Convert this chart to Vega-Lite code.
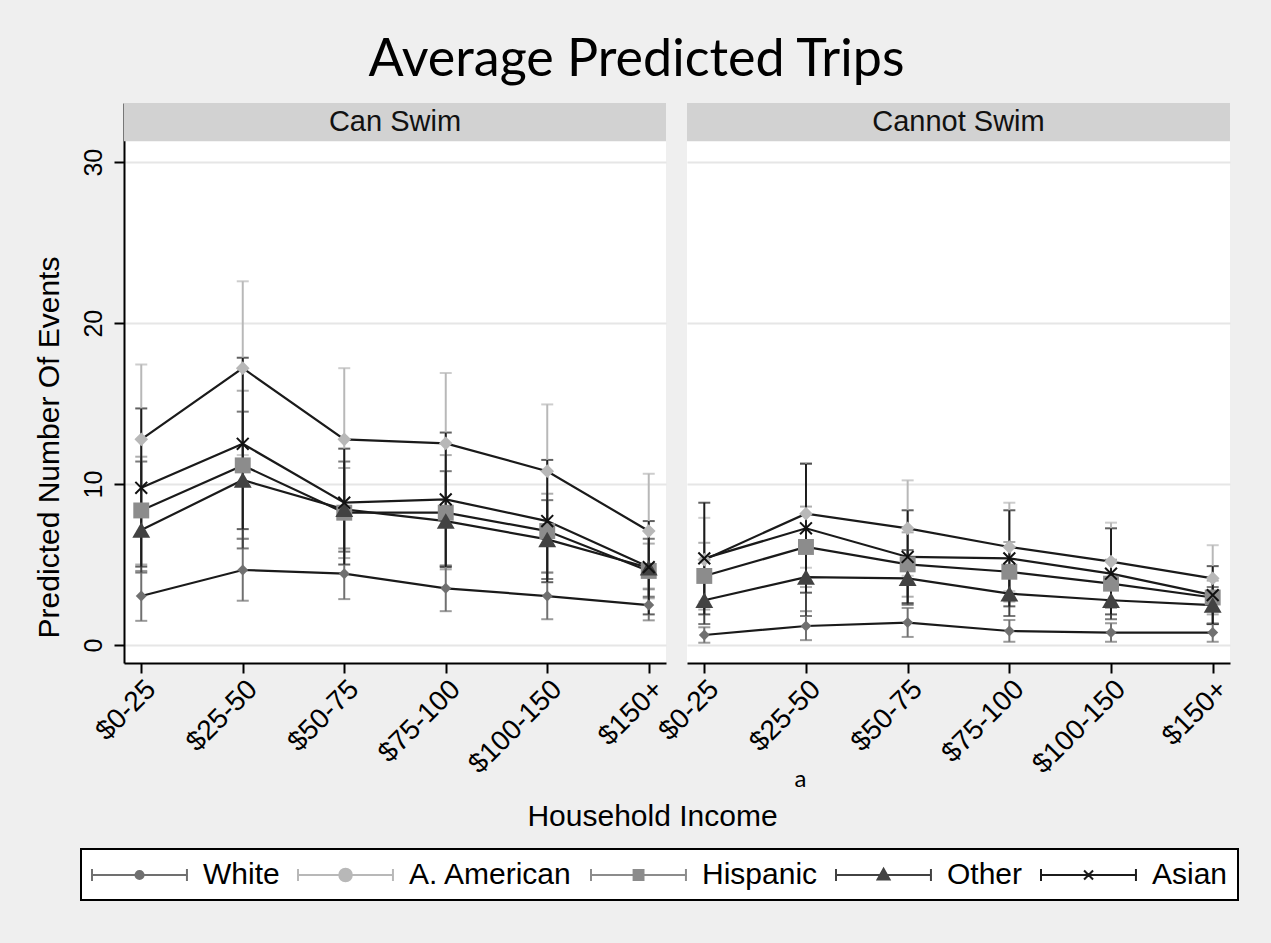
{
  "$schema": "https://vega.github.io/schema/vega-lite/v6.json",
  "background": "#efefef",
  "padding": {"left": 34, "top": 34, "right": 33, "bottom": 43},
  "title": {"text": "Average Predicted Trips", "font": "Lato", "fontSize": 52, "fontWeight": "normal", "color": "black", "anchor": "middle", "frame": "bounds", "offset": 16},
  "config": {"font": "Liberation Sans", "view": {"fill": "white", "stroke": null}},
  "datasets": {"d": [
    {"swim": "Can Swim", "race": "White", "income": "$0-25", "est": 3.04, "lo": 1.5, "hi": 4.6},
    {"swim": "Can Swim", "race": "White", "income": "$25-50", "est": 4.66, "lo": 2.75, "hi": 6.6},
    {"swim": "Can Swim", "race": "White", "income": "$50-75", "est": 4.43, "lo": 2.85, "hi": 6.0},
    {"swim": "Can Swim", "race": "White", "income": "$75-100", "est": 3.52, "lo": 2.1, "hi": 4.95},
    {"swim": "Can Swim", "race": "White", "income": "$100-150", "est": 3.04, "lo": 1.6, "hi": 4.5},
    {"swim": "Can Swim", "race": "White", "income": "$150+", "est": 2.48, "lo": 1.53, "hi": 3.46},
    {"swim": "Can Swim", "race": "A. American", "income": "$0-25", "est": 12.78, "lo": 8.13, "hi": 17.43},
    {"swim": "Can Swim", "race": "A. American", "income": "$25-50", "est": 17.2, "lo": 11.8, "hi": 22.6},
    {"swim": "Can Swim", "race": "A. American", "income": "$50-75", "est": 12.78, "lo": 8.36, "hi": 17.2},
    {"swim": "Can Swim", "race": "A. American", "income": "$75-100", "est": 12.53, "lo": 8.16, "hi": 16.9},
    {"swim": "Can Swim", "race": "A. American", "income": "$100-150", "est": 10.8, "lo": 6.65, "hi": 14.95},
    {"swim": "Can Swim", "race": "A. American", "income": "$150+", "est": 7.08, "lo": 3.52, "hi": 10.64},
    {"swim": "Can Swim", "race": "Hispanic", "income": "$0-25", "est": 8.36, "lo": 5.0, "hi": 11.7},
    {"swim": "Can Swim", "race": "Hispanic", "income": "$25-50", "est": 11.16, "lo": 6.6, "hi": 15.8},
    {"swim": "Can Swim", "race": "Hispanic", "income": "$50-75", "est": 8.22, "lo": 5.4, "hi": 11.0},
    {"swim": "Can Swim", "race": "Hispanic", "income": "$75-100", "est": 8.22, "lo": 4.7, "hi": 11.8},
    {"swim": "Can Swim", "race": "Hispanic", "income": "$100-150", "est": 7.08, "lo": 4.5, "hi": 9.4},
    {"swim": "Can Swim", "race": "Hispanic", "income": "$150+", "est": 4.6, "lo": 2.9, "hi": 6.3},
    {"swim": "Can Swim", "race": "Other", "income": "$0-25", "est": 7.14, "lo": 4.5, "hi": 11.4},
    {"swim": "Can Swim", "race": "Other", "income": "$25-50", "est": 10.25, "lo": 6.0, "hi": 14.5},
    {"swim": "Can Swim", "race": "Other", "income": "$50-75", "est": 8.43, "lo": 5.8, "hi": 11.4},
    {"swim": "Can Swim", "race": "Other", "income": "$75-100", "est": 7.7, "lo": 4.9, "hi": 10.8},
    {"swim": "Can Swim", "race": "Other", "income": "$100-150", "est": 6.56, "lo": 4.1, "hi": 9.0},
    {"swim": "Can Swim", "race": "Other", "income": "$150+", "est": 4.8, "lo": 3.0, "hi": 6.6},
    {"swim": "Can Swim", "race": "Asian", "income": "$0-25", "est": 9.77, "lo": 4.87, "hi": 14.7},
    {"swim": "Can Swim", "race": "Asian", "income": "$25-50", "est": 12.5, "lo": 7.2, "hi": 17.85},
    {"swim": "Can Swim", "race": "Asian", "income": "$50-75", "est": 8.84, "lo": 5.0, "hi": 12.2},
    {"swim": "Can Swim", "race": "Asian", "income": "$75-100", "est": 9.05, "lo": 4.84, "hi": 13.2},
    {"swim": "Can Swim", "race": "Asian", "income": "$100-150", "est": 7.7, "lo": 3.9, "hi": 11.5},
    {"swim": "Can Swim", "race": "Asian", "income": "$150+", "est": 4.84, "lo": 1.9, "hi": 7.7},
    {"swim": "Cannot Swim", "race": "White", "income": "$0-25", "est": 0.62, "lo": 0.14, "hi": 1.1},
    {"swim": "Cannot Swim", "race": "White", "income": "$25-50", "est": 1.18, "lo": 0.3, "hi": 2.1},
    {"swim": "Cannot Swim", "race": "White", "income": "$50-75", "est": 1.39, "lo": 0.5, "hi": 2.3},
    {"swim": "Cannot Swim", "race": "White", "income": "$75-100", "est": 0.87, "lo": 0.2, "hi": 1.55},
    {"swim": "Cannot Swim", "race": "White", "income": "$100-150", "est": 0.77, "lo": 0.2, "hi": 1.35},
    {"swim": "Cannot Swim", "race": "White", "income": "$150+", "est": 0.77, "lo": 0.2, "hi": 1.35},
    {"swim": "Cannot Swim", "race": "A. American", "income": "$0-25", "est": 5.3, "lo": 2.7, "hi": 7.9},
    {"swim": "Cannot Swim", "race": "A. American", "income": "$25-50", "est": 8.16, "lo": 4.8, "hi": 11.3},
    {"swim": "Cannot Swim", "race": "A. American", "income": "$50-75", "est": 7.25, "lo": 4.3, "hi": 10.23},
    {"swim": "Cannot Swim", "race": "A. American", "income": "$75-100", "est": 6.09, "lo": 3.35, "hi": 8.84},
    {"swim": "Cannot Swim", "race": "A. American", "income": "$100-150", "est": 5.18, "lo": 2.76, "hi": 7.6},
    {"swim": "Cannot Swim", "race": "A. American", "income": "$150+", "est": 4.14, "lo": 2.1, "hi": 6.2},
    {"swim": "Cannot Swim", "race": "Hispanic", "income": "$0-25", "est": 4.29, "lo": 2.2, "hi": 6.35},
    {"swim": "Cannot Swim", "race": "Hispanic", "income": "$25-50", "est": 6.09, "lo": 3.6, "hi": 8.6},
    {"swim": "Cannot Swim", "race": "Hispanic", "income": "$50-75", "est": 5.01, "lo": 3.0, "hi": 7.0},
    {"swim": "Cannot Swim", "race": "Hispanic", "income": "$75-100", "est": 4.55, "lo": 2.7, "hi": 6.4},
    {"swim": "Cannot Swim", "race": "Hispanic", "income": "$100-150", "est": 3.81, "lo": 2.3, "hi": 5.3},
    {"swim": "Cannot Swim", "race": "Hispanic", "income": "$150+", "est": 2.95, "lo": 1.9, "hi": 4.0},
    {"swim": "Cannot Swim", "race": "Other", "income": "$0-25", "est": 2.78, "lo": 1.3, "hi": 4.3},
    {"swim": "Cannot Swim", "race": "Other", "income": "$25-50", "est": 4.22, "lo": 1.8, "hi": 6.0},
    {"swim": "Cannot Swim", "race": "Other", "income": "$50-75", "est": 4.14, "lo": 2.5, "hi": 5.9},
    {"swim": "Cannot Swim", "race": "Other", "income": "$75-100", "est": 3.19, "lo": 1.8, "hi": 4.6},
    {"swim": "Cannot Swim", "race": "Other", "income": "$100-150", "est": 2.78, "lo": 1.6, "hi": 4.0},
    {"swim": "Cannot Swim", "race": "Other", "income": "$150+", "est": 2.48, "lo": 1.3, "hi": 3.6},
    {"swim": "Cannot Swim", "race": "Asian", "income": "$0-25", "est": 5.38, "lo": 1.9, "hi": 8.84},
    {"swim": "Cannot Swim", "race": "Asian", "income": "$25-50", "est": 7.25, "lo": 3.25, "hi": 11.26},
    {"swim": "Cannot Swim", "race": "Asian", "income": "$50-75", "est": 5.47, "lo": 2.6, "hi": 8.37},
    {"swim": "Cannot Swim", "race": "Asian", "income": "$75-100", "est": 5.38, "lo": 2.4, "hi": 8.37},
    {"swim": "Cannot Swim", "race": "Asian", "income": "$100-150", "est": 4.43, "lo": 1.9, "hi": 7.25},
    {"swim": "Cannot Swim", "race": "Asian", "income": "$150+", "est": 3.1, "lo": 1.3, "hi": 4.9}
  ]},
  "spacing": 21,
  "bounds": "flush",
  "resolve": {"scale": {"x": "independent", "y": "independent", "color": "shared"}},
  "hconcat": [
    {
      "data": {"name": "d"},
      "transform": [{"filter": "datum.swim === 'Can Swim'"}],
      "width": 542,
      "height": 560,
      "encoding": {
        "x": {"field": "income", "type": "ordinal", "sort": ["$0-25", "$25-50", "$50-75", "$75-100", "$100-150", "$150+"],
          "scale": {"type": "point", "padding": 0.17},
          "axis": {"title": "Household Income", "titleFontSize": 30, "titleFontWeight": "normal", "titleColor": "black", "titleX": 528, "titleY": 138, "titleBaseline": "top", "titleAlign": "center",
            "labelAngle": -45, "labelFontSize": 28, "labelColor": "black", "labelPadding": 2, "tickSize": 10, "tickWidth": 2, "tickColor": "black", "domainColor": "black", "domainWidth": 2, "grid": false}}
      },
      "layer": [
        {
          "transform": [{"filter": "datum.race === 'White' && datum.income === '$0-25'"}],
          "mark": {"type": "rect", "color": "#d2d2d2"},
          "encoding": {
            "x": null,
            "y": {"datum": 31.3, "type": "quantitative", "title": "Predicted Number Of Events", "scale": {"domain": [-1.12, 33.68], "nice": false, "zero": false},
              "axis": {"title": "Predicted Number Of Events", "titleFontSize": 30, "titleFontWeight": "normal", "titleColor": "black", "titleY": 344, "titlePadding": 17,
                "values": [0, 10, 20, 30], "labelAngle": -90, "labelFontSize": 25, "labelColor": "black", "labelPadding": 8, "tickSize": 10, "tickWidth": 2, "tickColor": "black", "domainColor": "black", "domainWidth": 2,
                "grid": true, "gridColor": "#e6e6e6", "gridWidth": 2}},
            "y2": {"datum": 33.68}
          }
        },
        {
          "transform": [{"filter": "datum.race === 'White' && datum.income === '$0-25'"}],
          "mark": {"type": "text", "fontSize": 29, "color": "#111111", "baseline": "middle"},
          "encoding": {
            "x": null,
            "y": {"datum": 32.5, "type": "quantitative", "title": "Predicted Number Of Events"},
            "text": {"field": "swim"}
          }
        },
        {
          "mark": {"type": "errorbar", "ticks": true, "thickness": 2, "size": 12},
          "encoding": {
            "y": {"field": "lo", "type": "quantitative", "title": "Predicted Number Of Events"},
            "y2": {"field": "hi"},
            "color": {"field": "race", "type": "nominal",
              "scale": {"domain": ["White", "A. American", "Hispanic", "Other", "Asian"], "range": ["#707070", "#b8b8b8", "#8c8c8c", "#424242", "#1c1c1c"]},
              "legend": {"title": null, "orient": "none", "legendX": -43, "legendY": 746, "direction": "horizontal", "columns": 5,
                "labelFontSize": 30, "labelColor": "black", "labelFont": "Liberation Sans", "labelOffset": 80, "labelLimit": 0, "columnPadding": 14,
                "symbolSize": 900, "symbolStrokeWidth": 2, "symbolOpacity": 1, "padding": 10, "fillColor": "white", "strokeColor": "black",
                "encode": {
                  "legend": {"update": {"strokeWidth": {"value": 2}}},
                  "symbols": {"update": {
                  "shape": {"signal": "datum.value === 'White' ? 'M-1,-0.4V0.4M-1,0H5.33M5.33,-0.4V0.4M2.44,0A0.27,0.27,0,1,1,1.9,0A0.27,0.27,0,1,1,2.44,0Z' : datum.value === 'A. American' ? 'M-1,-0.4V0.4M-1,0H5.33M5.33,-0.4V0.4M2.59,0A0.42,0.42,0,1,1,1.75,0A0.42,0.42,0,1,1,2.59,0Z' : datum.value === 'Hispanic' ? 'M-1,-0.4V0.4M-1,0H5.33M5.33,-0.4V0.4M1.84,-0.33H2.5V0.33H1.84Z' : datum.value === 'Other' ? 'M-1,-0.4V0.4M-1,0H5.33M5.33,-0.4V0.4M2.17,-0.42L2.57,0.3H1.77Z' : 'M-1,-0.4V0.4M-1,0H5.33M5.33,-0.4V0.4M1.87,-0.3L2.47,0.3M1.87,0.3L2.47,-0.3'"},
                  "stroke": {"scale": "color", "field": "value"},
                  "fill": {"scale": "color", "field": "value"}
                }}}}}
          }
        },
        {
          "mark": {"type": "line", "color": "#1a1a1a", "strokeWidth": 2.2},
          "encoding": {
            "y": {"field": "est", "type": "quantitative", "title": "Predicted Number Of Events"},
            "detail": {"field": "race"},
            "order": {"value": null}
          }
        },
        {
          "transform": [{"filter": "datum.race !== 'Asian'"}],
          "mark": {"type": "point", "filled": true, "opacity": 1},
          "encoding": {
            "y": {"field": "est", "type": "quantitative", "title": "Predicted Number Of Events"},
            "color": {"field": "race", "type": "nominal"},
            "shape": {"field": "race", "type": "nominal", "scale": {"domain": ["White", "A. American", "Hispanic", "Other"], "range": ["diamond", "diamond", "square", "triangle-up"]}, "legend": null},
            "size": {"field": "race", "type": "nominal", "scale": {"domain": ["White", "A. American", "Hispanic", "Other"], "range": [120, 320, 230, 240]}, "legend": null}
          }
        },
        {
          "transform": [{"filter": "datum.race === 'Asian'"}],
          "mark": {"type": "point", "filled": false, "shape": "M-1,-1L1,1M-1,1L1,-1", "size": 140, "color": "#111111", "strokeWidth": 2, "opacity": 1},
          "encoding": {
            "y": {"field": "est", "type": "quantitative", "title": "Predicted Number Of Events"}
          }
        }
      ]
    },
    {
      "data": {"name": "d"},
      "transform": [{"filter": "datum.swim === 'Cannot Swim'"}],
      "width": 543,
      "height": 560,
      "encoding": {
        "x": {"field": "income", "type": "ordinal", "sort": ["$0-25", "$25-50", "$50-75", "$75-100", "$100-150", "$150+"],
          "scale": {"type": "point", "padding": 0.17},
          "axis": {"title": "a", "titleFont": "Lato", "titleFontSize": 24, "titleFontWeight": "normal", "titleColor": "black", "titleX": 113, "titleY": 116, "titleBaseline": "middle", "titleAlign": "center",
            "labelAngle": -45, "labelFontSize": 28, "labelColor": "black", "labelPadding": 2, "tickSize": 10, "tickWidth": 2, "tickColor": "black", "domainColor": "black", "domainWidth": 2, "grid": false}}
      },
      "layer": [
        {
          "transform": [{"filter": "datum.race === 'White' && datum.income === '$0-25'"}],
          "mark": {"type": "rect", "color": "#d2d2d2"},
          "encoding": {
            "x": null,
            "y": {"datum": 31.3, "type": "quantitative", "scale": {"domain": [-1.12, 33.68], "nice": false, "zero": false},
              "axis": {"title": null, "values": [0, 10, 20, 30], "labels": false, "ticks": false, "domain": false, "grid": true, "gridColor": "#e6e6e6", "gridWidth": 2}},
            "y2": {"datum": 33.68}
          }
        },
        {
          "transform": [{"filter": "datum.race === 'White' && datum.income === '$0-25'"}],
          "mark": {"type": "text", "fontSize": 29, "color": "#111111", "baseline": "middle"},
          "encoding": {
            "x": null,
            "y": {"datum": 32.5, "type": "quantitative", "title": null},
            "text": {"field": "swim"}
          }
        },
        {
          "mark": {"type": "errorbar", "ticks": true, "thickness": 2, "size": 12},
          "encoding": {
            "y": {"field": "lo", "type": "quantitative", "title": null},
            "y2": {"field": "hi"},
            "color": {"field": "race", "type": "nominal"}
          }
        },
        {
          "mark": {"type": "line", "color": "#1a1a1a", "strokeWidth": 2.2},
          "encoding": {
            "y": {"field": "est", "type": "quantitative", "title": null},
            "detail": {"field": "race"},
            "order": {"value": null}
          }
        },
        {
          "transform": [{"filter": "datum.race !== 'Asian'"}],
          "mark": {"type": "point", "filled": true, "opacity": 1},
          "encoding": {
            "y": {"field": "est", "type": "quantitative", "title": null},
            "color": {"field": "race", "type": "nominal"},
            "shape": {"field": "race", "type": "nominal", "scale": {"domain": ["White", "A. American", "Hispanic", "Other"], "range": ["diamond", "diamond", "square", "triangle-up"]}, "legend": null},
            "size": {"field": "race", "type": "nominal", "scale": {"domain": ["White", "A. American", "Hispanic", "Other"], "range": [120, 320, 230, 240]}, "legend": null}
          }
        },
        {
          "transform": [{"filter": "datum.race === 'Asian'"}],
          "mark": {"type": "point", "filled": false, "shape": "M-1,-1L1,1M-1,1L1,-1", "size": 140, "color": "#111111", "strokeWidth": 2, "opacity": 1},
          "encoding": {
            "y": {"field": "est", "type": "quantitative", "title": null}
          }
        }
      ]
    }
  ]
}
